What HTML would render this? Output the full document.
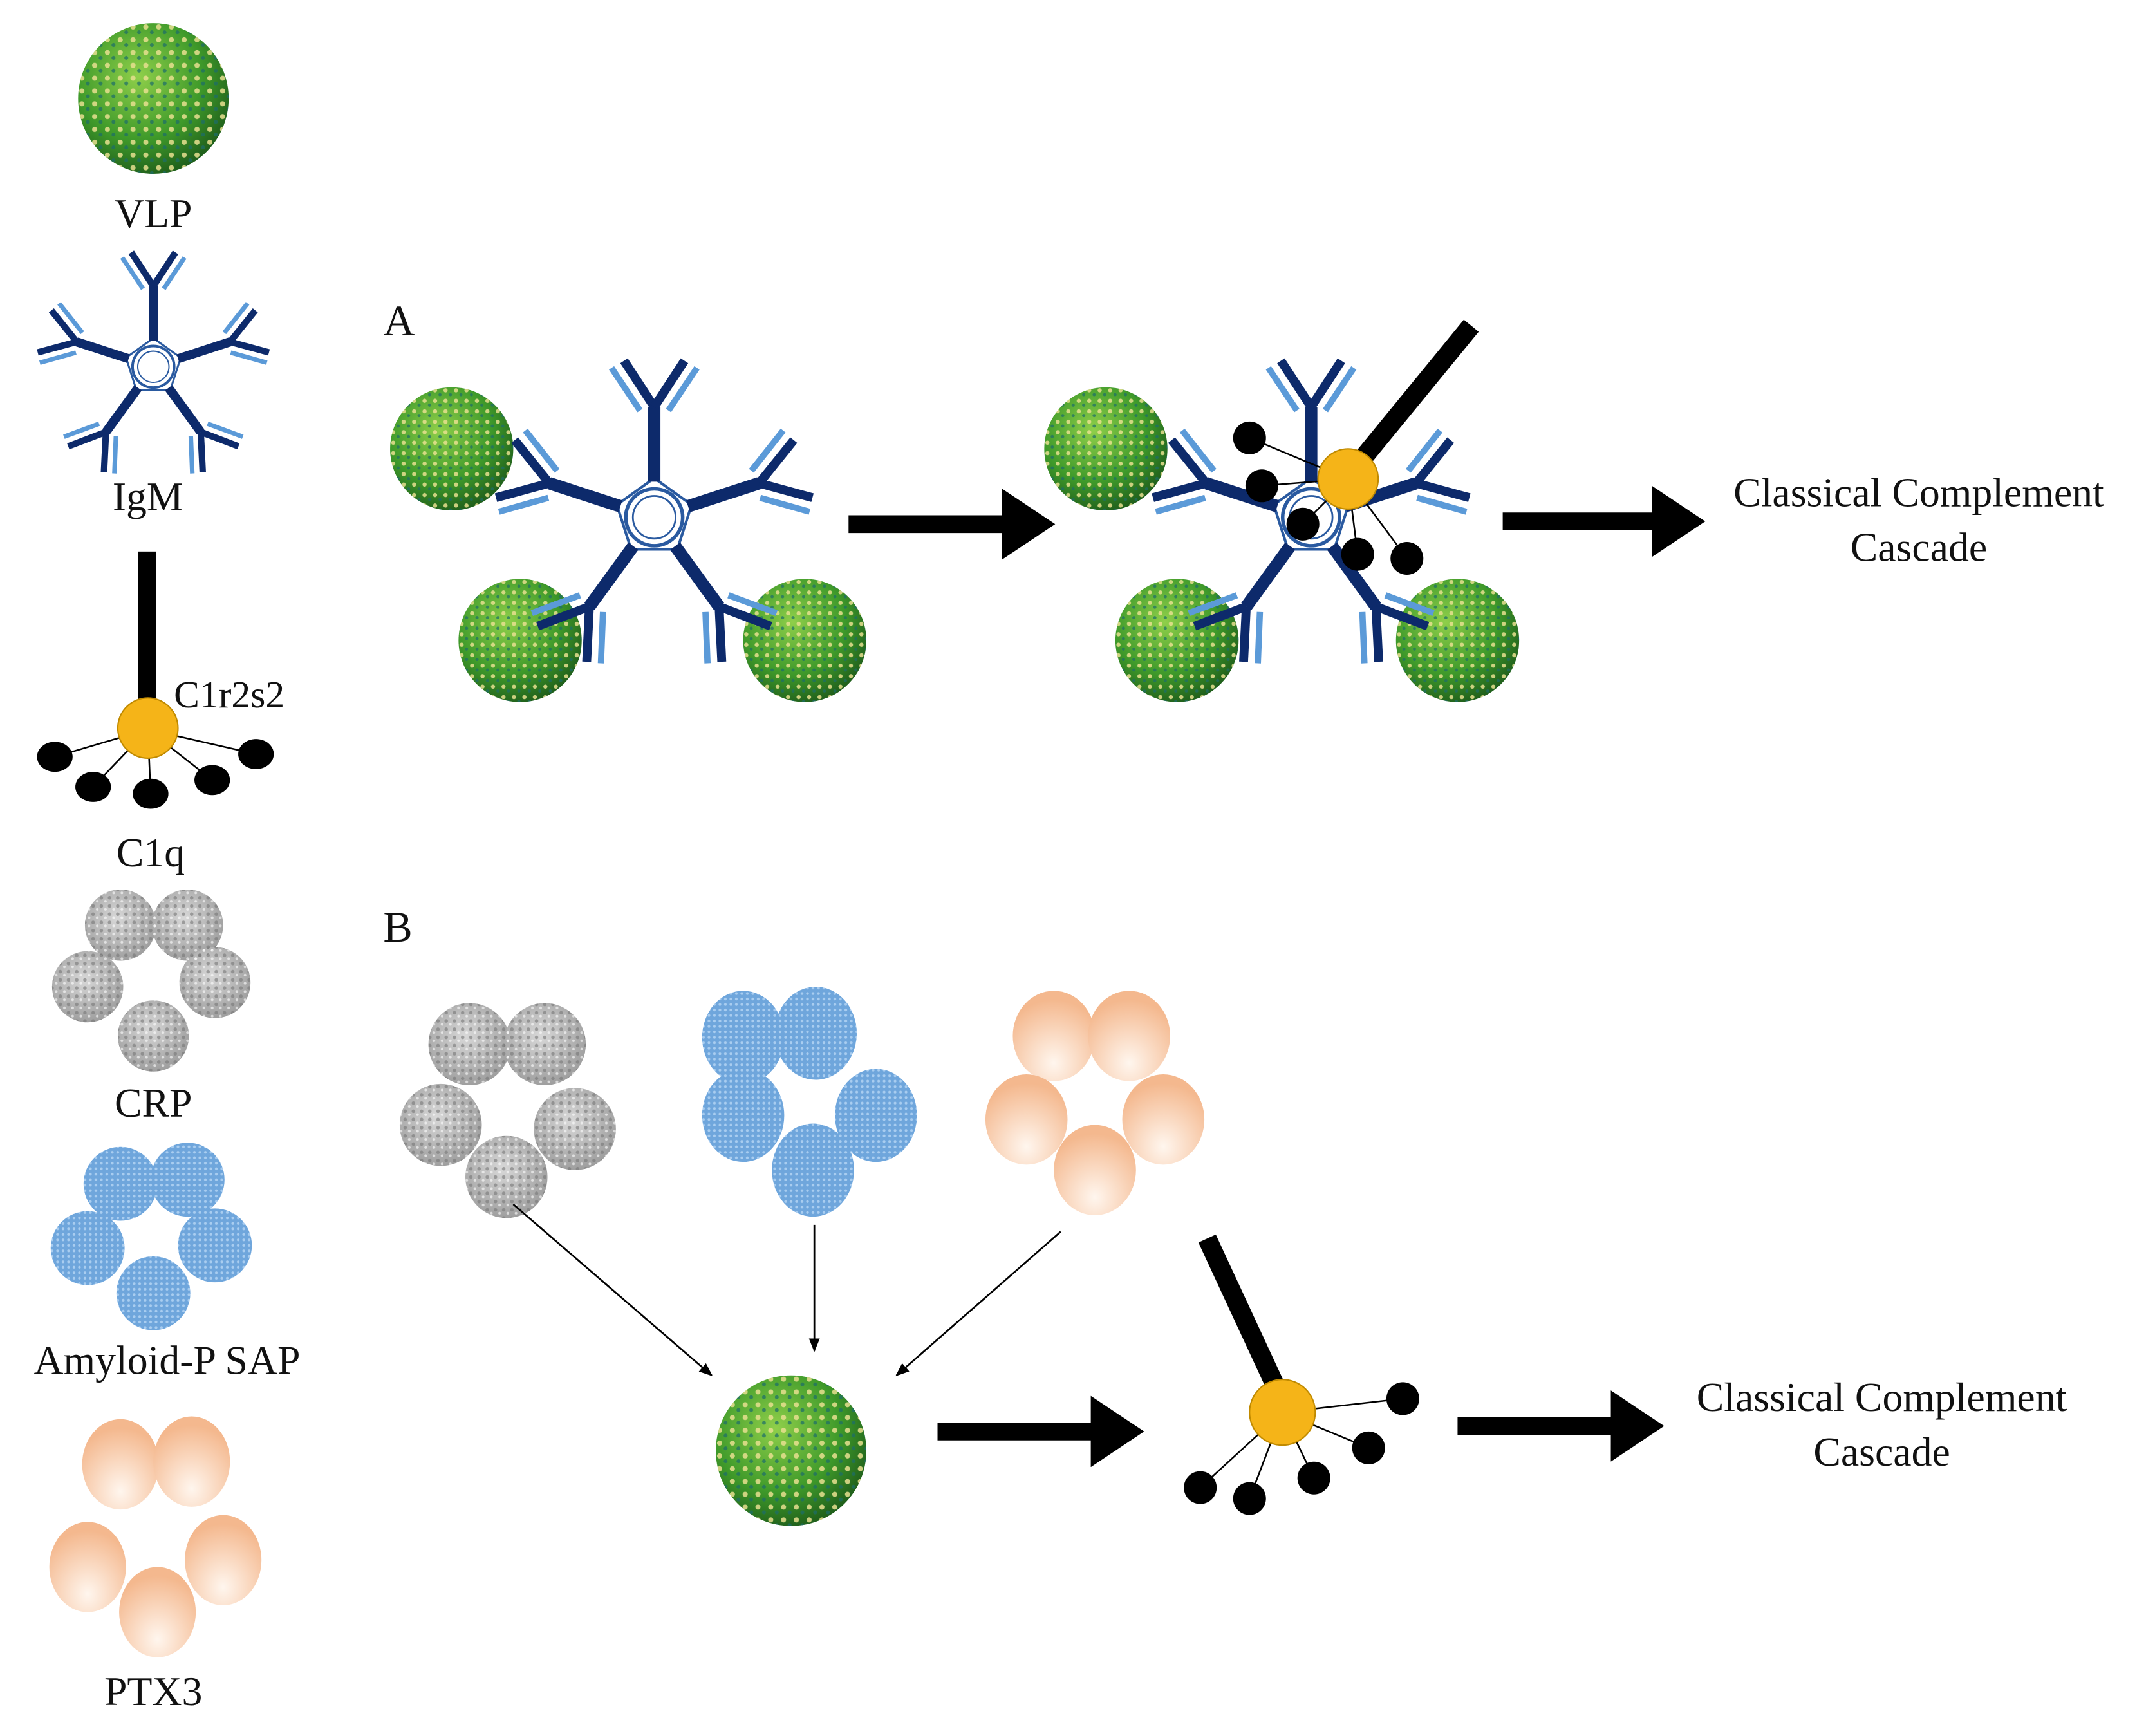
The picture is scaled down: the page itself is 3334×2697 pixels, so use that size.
<!DOCTYPE html>
<html><head><meta charset="utf-8"><style>
html,body{margin:0;padding:0;background:#fff;}
svg{display:block;}
text{font-family:"Liberation Serif",serif;fill:#111;}
</style></head><body>
<svg width="3334" height="2697" viewBox="0 0 1568 1268.5" xmlns="http://www.w3.org/2000/svg">
<defs>
<radialGradient id="vg" cx="40%" cy="35%" r="70%">
<stop offset="0" stop-color="#8fcf4a"/><stop offset="0.6" stop-color="#3f9a2a"/><stop offset="1" stop-color="#1d5a1a"/>
</radialGradient>
<pattern id="vp" width="0.085" height="0.085" patternUnits="objectBoundingBox" patternContentUnits="objectBoundingBox">
<circle cx="0.025" cy="0.025" r="0.017" fill="#e8e090" opacity="0.85"/><circle cx="0.065" cy="0.06" r="0.013" fill="#1c6d6a" opacity="0.7"/>
</pattern>
<radialGradient id="gg" cx="45%" cy="40%" r="65%">
<stop offset="0" stop-color="#d8d8d8"/><stop offset="1" stop-color="#9a9a9a"/>
</radialGradient>
<pattern id="gp" width="6" height="6" patternUnits="userSpaceOnUse">
<circle cx="2" cy="2" r="1.3" fill="#777" opacity="0.6"/><circle cx="5" cy="4.5" r="1" fill="#fff" opacity="0.6"/>
</pattern>
<pattern id="bp" width="4" height="4" patternUnits="userSpaceOnUse">
<rect width="4" height="4" fill="#6fa6dc"/><circle cx="2" cy="2" r="1" fill="#a9cdf0"/>
</pattern>
<radialGradient id="pg" cx="50%" cy="80%" r="70%">
<stop offset="0" stop-color="#fff6ee"/><stop offset="1" stop-color="#f4b88e"/>
</radialGradient>
<g id="vlp"><circle r="1" fill="url(#vg)"/><circle r="1" fill="url(#vp)"/></g>
<g id="arm">
<line x1="0" y1="-20" x2="0" y2="-62" stroke="#0d2a6b" stroke-width="7"/>
<line x1="0" y1="-62" x2="-17" y2="-88" stroke="#0d2a6b" stroke-width="5"/>
<line x1="0" y1="-62" x2="17" y2="-88" stroke="#0d2a6b" stroke-width="5"/>
<line x1="-8" y1="-60" x2="-24" y2="-84" stroke="#5b9ad8" stroke-width="3.5"/>
<line x1="8" y1="-60" x2="24" y2="-84" stroke="#5b9ad8" stroke-width="3.5"/>
</g>
<g id="igm">
<polygon points="0,-22 21,-7 13,18 -13,18 -21,-7" fill="none" stroke="#2a5aa0" stroke-width="1.5"/>
<use href="#arm"/><use href="#arm" transform="rotate(72)"/><use href="#arm" transform="rotate(144)"/><use href="#arm" transform="rotate(216)"/><use href="#arm" transform="rotate(288)"/>
<circle r="16" fill="#fff" stroke="#2a5aa0" stroke-width="2"/>
<circle r="12" fill="none" stroke="#2a5aa0" stroke-width="1"/>
</g>
<marker id="ah" markerWidth="4" markerHeight="4" refX="1" refY="2" orient="auto" markerUnits="strokeWidth"><path d="M0,0 L3,2 L0,4z" fill="#000"/></marker>
<marker id="ta" markerWidth="10" markerHeight="8" refX="9" refY="4" orient="auto" markerUnits="userSpaceOnUse"><path d="M0,0 L10,4 L0,8z" fill="#000"/></marker>
</defs>

<!-- Left legend -->
<g transform="translate(112,72) scale(55)"><use href="#vlp"/></g>
<text x="112" y="166" font-size="30" text-anchor="middle">VLP</text>
<g transform="translate(112,268) scale(0.95)"><use href="#igm"/></g>
<text x="108" y="373" font-size="30" text-anchor="middle">IgM</text>
<rect x="101" y="403" width="13" height="110" fill="#000"/>
<g stroke="#000" stroke-width="1.2">
<line x1="108" y1="533" x2="40" y2="553"/><line x1="108" y1="533" x2="68" y2="575"/><line x1="108" y1="533" x2="110" y2="580"/><line x1="108" y1="533" x2="155" y2="570"/><line x1="108" y1="533" x2="187" y2="551"/>
</g>
<circle cx="108" cy="532" r="22" fill="#f5b418" stroke="#c08a00"/>
<g fill="#000"><ellipse cx="40" cy="553" rx="13" ry="11"/><ellipse cx="68" cy="575" rx="13" ry="11"/><ellipse cx="110" cy="580" rx="13" ry="11"/><ellipse cx="155" cy="570" rx="13" ry="11"/><ellipse cx="187" cy="551" rx="13" ry="11"/></g>
<text x="127" y="517" font-size="28">C1r2s2</text>
<text x="110" y="633" font-size="30" text-anchor="middle">C1q</text>
<g><circle cx="88" cy="676" r="26" fill="url(#gg)"/><circle cx="137" cy="676" r="26" fill="url(#gg)"/><circle cx="64" cy="721" r="26" fill="url(#gg)"/><circle cx="157" cy="718" r="26" fill="url(#gg)"/><circle cx="112" cy="757" r="26" fill="url(#gg)"/></g>
<g fill="url(#gp)"><circle cx="88" cy="676" r="26"/><circle cx="137" cy="676" r="26"/><circle cx="64" cy="721" r="26"/><circle cx="157" cy="718" r="26"/><circle cx="112" cy="757" r="26"/></g>
<text x="112" y="816" font-size="30" text-anchor="middle">CRP</text>
<g fill="url(#bp)"><circle cx="88" cy="865" r="27"/><circle cx="137" cy="862" r="27"/><circle cx="64" cy="912" r="27"/><circle cx="157" cy="910" r="27"/><circle cx="112" cy="945" r="27"/></g>
<text x="122" y="1004" font-size="30" text-anchor="middle">Amyloid-P SAP</text>
<g fill="url(#pg)"><ellipse cx="88" cy="1070" rx="28" ry="33"/><ellipse cx="140" cy="1068" rx="28" ry="33"/><ellipse cx="64" cy="1145" rx="28" ry="33"/><ellipse cx="163" cy="1140" rx="28" ry="33"/><ellipse cx="115" cy="1178" rx="28" ry="33"/></g>
<text x="112" y="1246" font-size="30" text-anchor="middle">PTX3</text>

<!-- Panel A -->
<text x="280" y="245" font-size="32">A</text>
<g transform="translate(330,328) scale(45)"><use href="#vlp"/></g>
<g transform="translate(380,468) scale(45)"><use href="#vlp"/></g>
<g transform="translate(588,468) scale(45)"><use href="#vlp"/></g>
<g transform="translate(478,378) scale(1.3)"><use href="#igm"/></g>
<line x1="620" y1="383" x2="745" y2="383" stroke="#000" stroke-width="13" marker-end="url(#ah)"/>

<g transform="translate(808,328) scale(45)"><use href="#vlp"/></g>
<g transform="translate(860,468) scale(45)"><use href="#vlp"/></g>
<g transform="translate(1065,468) scale(45)"><use href="#vlp"/></g>
<g transform="translate(958,378) scale(1.3)"><use href="#igm"/></g>
<line x1="985" y1="348" x2="1075" y2="238" stroke="#000" stroke-width="14"/>
<g stroke="#000" stroke-width="1.2">
<line x1="985" y1="350" x2="913" y2="320"/><line x1="985" y1="350" x2="922" y2="355"/><line x1="985" y1="350" x2="952" y2="383"/><line x1="985" y1="350" x2="992" y2="405"/><line x1="985" y1="350" x2="1028" y2="408"/>
</g>
<circle cx="985" cy="350" r="22" fill="#f5b418" stroke="#c08a00"/>
<g fill="#000"><circle cx="913" cy="320" r="12"/><circle cx="922" cy="355" r="12"/><circle cx="952" cy="383" r="12"/><circle cx="992" cy="405" r="12"/><circle cx="1028" cy="408" r="12"/></g>
<line x1="1098" y1="381" x2="1220" y2="381" stroke="#000" stroke-width="13" marker-end="url(#ah)"/>
<text x="1402" y="370" font-size="30" text-anchor="middle">Classical Complement</text>
<text x="1402" y="410" font-size="30" text-anchor="middle">Cascade</text>

<!-- Panel B -->
<text x="280" y="688" font-size="32">B</text>
<g><circle cx="343" cy="763" r="30" fill="url(#gg)"/><circle cx="398" cy="763" r="30" fill="url(#gg)"/><circle cx="322" cy="822" r="30" fill="url(#gg)"/><circle cx="420" cy="825" r="30" fill="url(#gg)"/><circle cx="370" cy="860" r="30" fill="url(#gg)"/></g>
<g fill="url(#gp)"><circle cx="343" cy="763" r="30"/><circle cx="398" cy="763" r="30"/><circle cx="322" cy="822" r="30"/><circle cx="420" cy="825" r="30"/><circle cx="370" cy="860" r="30"/></g>
<g fill="url(#bp)"><ellipse cx="543" cy="758" rx="30" ry="34"/><ellipse cx="596" cy="755" rx="30" ry="34"/><ellipse cx="543" cy="815" rx="30" ry="34"/><ellipse cx="640" cy="815" rx="30" ry="34"/><ellipse cx="594" cy="855" rx="30" ry="34"/></g>
<g fill="url(#pg)"><ellipse cx="770" cy="757" rx="30" ry="33"/><ellipse cx="825" cy="757" rx="30" ry="33"/><ellipse cx="750" cy="818" rx="30" ry="33"/><ellipse cx="850" cy="818" rx="30" ry="33"/><ellipse cx="800" cy="855" rx="30" ry="33"/></g>
<g stroke="#000" stroke-width="1.3">
<line x1="375" y1="880" x2="520" y2="1005" marker-end="url(#ta)"/>
<line x1="595" y1="895" x2="595" y2="987" marker-end="url(#ta)"/>
<line x1="775" y1="900" x2="655" y2="1005" marker-end="url(#ta)"/>
</g>
<g transform="translate(578,1060) scale(55)"><use href="#vlp"/></g>
<line x1="685" y1="1046" x2="810" y2="1046" stroke="#000" stroke-width="13" marker-end="url(#ah)"/>
<line x1="882" y1="905" x2="933" y2="1015" stroke="#000" stroke-width="14"/>
<g stroke="#000" stroke-width="1.2">
<line x1="937" y1="1032" x2="1025" y2="1022"/><line x1="937" y1="1032" x2="1000" y2="1058"/><line x1="937" y1="1032" x2="960" y2="1080"/><line x1="937" y1="1032" x2="913" y2="1095"/><line x1="937" y1="1032" x2="877" y2="1087"/>
</g>
<circle cx="937" cy="1032" r="24" fill="#f5b418" stroke="#c08a00"/>
<g fill="#000"><circle cx="1025" cy="1022" r="12"/><circle cx="1000" cy="1058" r="12"/><circle cx="960" cy="1080" r="12"/><circle cx="913" cy="1095" r="12"/><circle cx="877" cy="1087" r="12"/></g>
<line x1="1065" y1="1042" x2="1190" y2="1042" stroke="#000" stroke-width="13" marker-end="url(#ah)"/>
<text x="1375" y="1031" font-size="30" text-anchor="middle">Classical Complement</text>
<text x="1375" y="1071" font-size="30" text-anchor="middle">Cascade</text>
</svg>
</body></html>
